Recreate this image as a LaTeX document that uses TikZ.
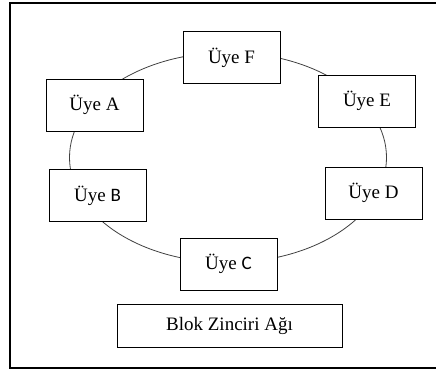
\documentclass[tikz,border=0pt]{standalone}
\usepackage{fontspec}
\setmainfont{Liberation Serif}
\newfontfamily\uyecal{Carlito}
\usetikzlibrary{positioning}

\begin{document}
\begin{tikzpicture}[x=1bp, y=-1bp,
                    every node/.style={font=\fontsize{19bp}{23bp}\selectfont},
                    uye/.style={draw, fill=white, line width=0.9bp,
                                minimum width=97bp, minimum height=52bp, inner sep=0pt}]
\useasboundingbox (0,0) rectangle (436,372);
% frame
\draw[line width=1.3bp] (10,3) rectangle (440,368);
% ring
\coordinate (ring) at (228,157.5);
\draw[line width=0.8bp, black!75] (ring) ellipse [x radius=158.5, y radius=105];
% members
\node[uye] (F) at (231.5,57.5) {Üye F};
\node[uye] (A) at (94.5,105) {Üye A};
\node[uye] (E) at (367,101) {Üye E};
\node[uye] (B) at (97.5,195.5) {Üye {\uyecal B}};
\node[uye] (D) at (373.5,193) {Üye D};
\node[uye] (C) at (228.5,264) {Üye {\uyecal C}};
\node[uye, minimum width=225bp, minimum height=43bp] (net) at (229.5,325.5) {Blok Zinciri Ağı};
\end{tikzpicture}
\end{document}
